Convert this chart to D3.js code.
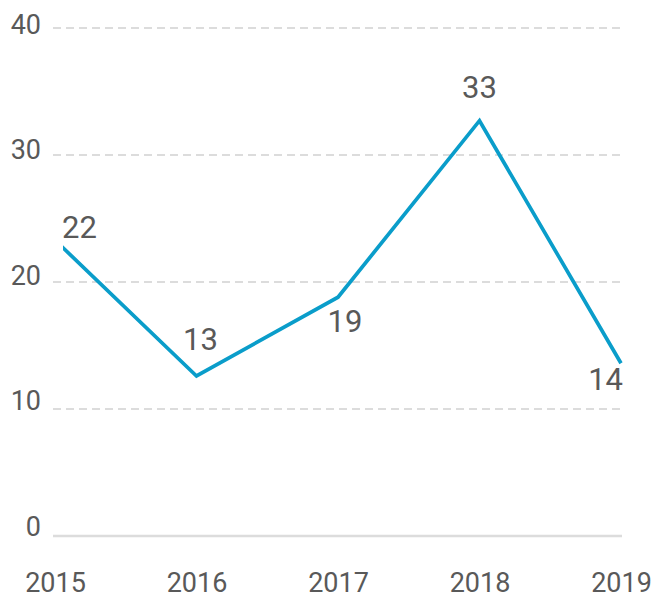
<!DOCTYPE html>
<html>
<head>
<meta charset="utf-8">
<script src="https://cdn.jsdelivr.net/npm/d3@7"></script>
<style>
  body { margin: 0; background: #fff; }
  text { font-family: Roboto, "Noto Sans", sans-serif; fill: #595959; }
</style>
</head>
<body>
<script>
// data
const years = ["2015", "2016", "2017", "2018", "2019"]
const values = [23.3, 12.6, 18.8, 32.7, 13.6]
const valueLabels = ["22", "13", "19", "33", "14"]
const yTicks = [0, 10, 20, 30, 40]

// label placement (offsets from the point), not data
const labelPlace = [
  { dx: 7, dy: -2, anchor: "start" },
  { dx: 4, dy: -26, anchor: "middle" },
  { dx: 7, dy: 35, anchor: "middle" },
  { dx: 0, dy: -23, anchor: "middle" },
  { dx: 2, dy: 27, anchor: "end" }
]

const svgWidth = 655
const svgHeight = 595
const plot = { left: 53, right: 622, top: 28, bottom: 536 }
const clipLeft = 63

const svg = d3.select("body")
  .append("svg")
  .attr("width", svgWidth)
  .attr("height", svgHeight)

const xScale = d3.scalePoint()
  .domain(years)
  .range([55, 621])

const yScale = d3.scaleLinear()
  .domain([0, 40])
  .range([plot.bottom, plot.top])

// gridlines
svg.append("g")
  .selectAll("line")
  .data(yTicks)
  .enter()
  .append("line")
  .attr("x1", plot.left)
  .attr("x2", plot.right)
  .attr("y1", d => yScale(d))
  .attr("y2", d => yScale(d))
  .attr("stroke", "#dcdcdc")
  .attr("stroke-width", d => d === 0 ? 2.5 : 2)
  .attr("stroke-dasharray", d => d === 0 ? null : "8,5")

// y axis labels
const yAxis = d3.axisLeft(yScale)
  .tickValues(yTicks)
  .tickSize(0)
  .tickPadding(0)

const yG = svg.append("g")
  .attr("transform", "translate(41,0)")
  .call(yAxis)
yG.select(".domain").remove()
yG.selectAll("text")
  .attr("font-size", 27)
  .attr("font-family", null)
  .attr("fill", null)
  .attr("dy", d => (-1 + d * 0.15) + "px")
  .attr("dominant-baseline", "alphabetic")

// x axis labels
const xAxis = d3.axisBottom(xScale)
  .tickSize(0)
  .tickPadding(0)

const xG = svg.append("g")
  .attr("transform", "translate(0,592)")
  .call(xAxis)
xG.select(".domain").remove()
xG.selectAll("text")
  .attr("font-size", 27)
  .attr("font-family", null)
  .attr("fill", null)
  .attr("dy", 0)

// clip so the line starts inside the plot area
svg.append("clipPath")
  .attr("id", "plotclip")
  .append("rect")
  .attr("x", clipLeft)
  .attr("y", 0)
  .attr("width", 640 - clipLeft)
  .attr("height", svgHeight)

const line = d3.line()
  .x((d, i) => xScale(years[i]))
  .y(d => yScale(d))

svg.append("path")
  .datum(values)
  .attr("clip-path", "url(#plotclip)")
  .attr("d", line)
  .attr("fill", "none")
  .attr("stroke", "#0a9dca")
  .attr("stroke-width", 3.7)
  .attr("stroke-linejoin", "miter")

// value labels
svg.append("g")
  .selectAll("text")
  .data(values)
  .enter()
  .append("text")
  .attr("x", (d, i) => Math.max(xScale(years[i]), clipLeft - 8) + labelPlace[i].dx)
  .attr("y", (d, i) => yScale(d) + labelPlace[i].dy)
  .attr("text-anchor", (d, i) => labelPlace[i].anchor)
  .attr("font-size", 31)
  .text((d, i) => valueLabels[i])
</script>
</body>
</html>
